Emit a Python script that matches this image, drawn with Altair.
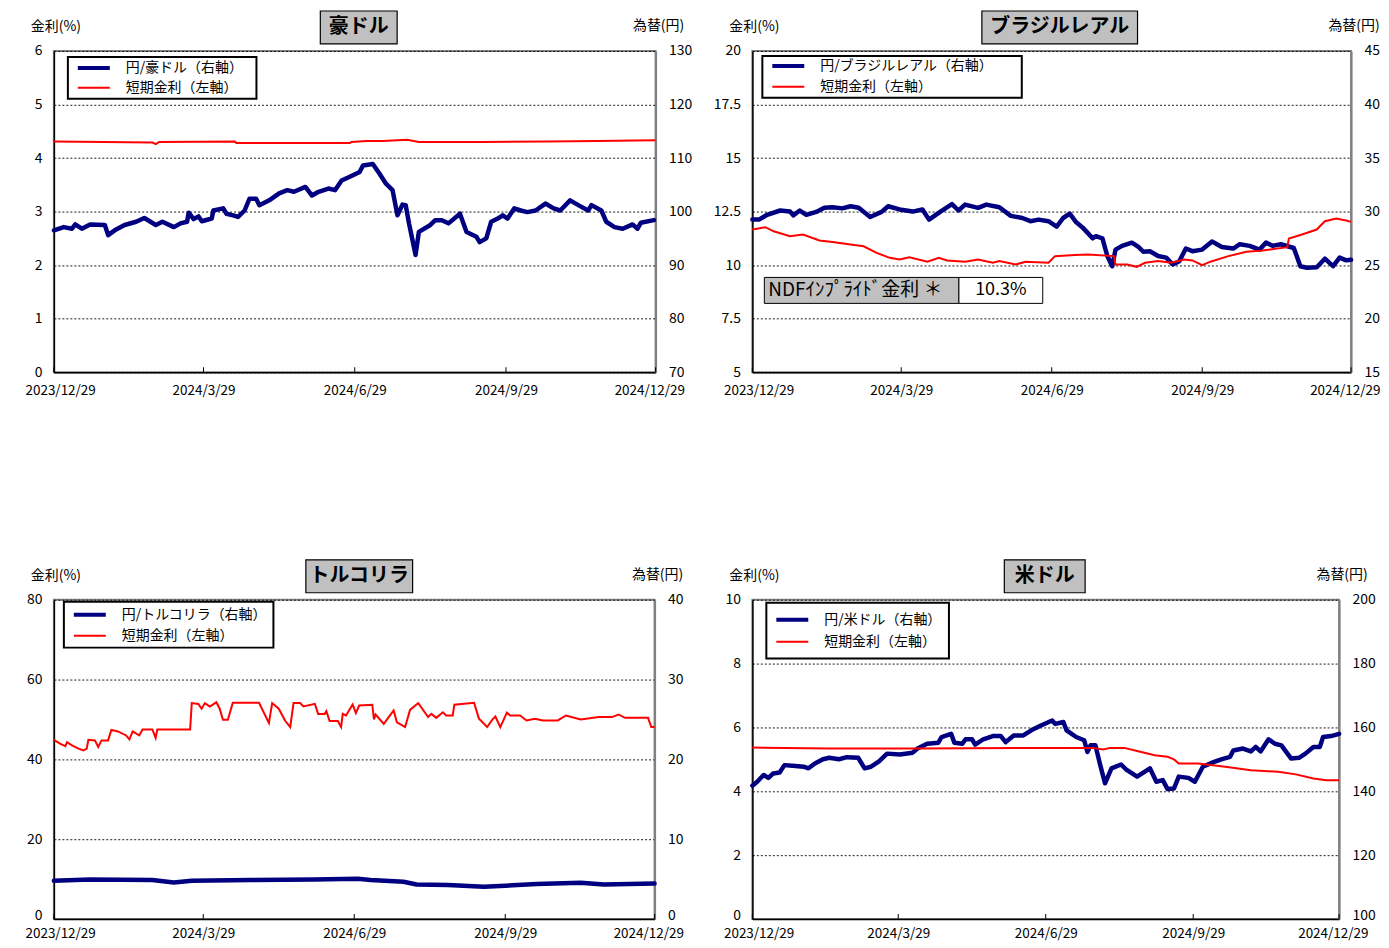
import altair as alt
import pandas as pd

BASE_DATE = "2023-12-29"
TICK_DATES = [(2023, 12, 29), (2024, 3, 29), (2024, 6, 29), (2024, 9, 29), (2024, 12, 29)]
TICK_DAYS = [0, 91, 183, 275, 366]

RATE_LABEL = "短期金利（左軸）"
LEFT_AXIS_TITLE = "金利(%)"
RIGHT_AXIS_TITLE = "為替(円)"

# ---------------- 豪ドル ----------------
AUD_TITLE = "豪ドル"
AUD_FX_LABEL = "円/豪ドル（右軸）"
AUD_FX_DAY = [0, 6, 11, 13, 17, 22, 31, 33, 37, 43, 50, 55, 62, 66, 73, 77, 81, 82, 85, 88,
              90, 96, 97, 103, 105, 109, 112, 116, 119, 123, 125, 131, 137, 142, 146, 153, 157, 161, 167, 171,
              175, 180, 186, 188, 194, 198, 202, 206, 209, 212, 214, 216, 220, 222, 229, 232, 236, 240, 247, 251,
              257, 259, 263, 266, 270, 273, 276, 280, 284, 288, 293, 299, 304, 308, 314, 319, 325, 327, 333, 336,
              341, 346, 352, 355, 357, 365]
AUD_FX = [96.5, 97.1, 96.8, 97.6, 96.8, 97.6, 97.5, 95.6, 96.5, 97.5, 98.1, 98.8, 97.5, 98.1, 97.1, 97.8, 98.1, 99.8, 98.6, 99.1,
          98.2, 98.7, 100.2, 100.6, 99.6, 99.3, 99.0, 100.2, 102.4, 102.4, 101.2, 102.1, 103.4, 104.0, 103.7, 104.6, 103.0, 103.7, 104.3, 104.0,
          105.8, 106.5, 107.4, 108.6, 108.9, 107.1, 105.2, 104.0, 99.3, 101.3, 101.2, 97.8, 91.9, 96.2, 97.5, 98.4, 98.4, 97.8, 99.6, 96.2,
          95.3, 94.3, 95.0, 98.1, 98.7, 99.3, 98.7, 100.6, 100.2, 99.9, 100.2, 101.5, 100.6, 100.2, 102.1, 101.2, 100.2, 101.2, 100.2, 98.1,
          97.1, 96.8, 97.6, 96.8, 97.9, 98.4]
AUD_RATE_DAY = [0, 30, 60, 62, 64, 110, 111, 180, 181, 190, 200, 215, 222, 260, 300, 330, 366]
AUD_RATE = [4.31, 4.30, 4.29, 4.26, 4.30, 4.31, 4.28, 4.28, 4.30, 4.32, 4.32, 4.34, 4.30, 4.30, 4.31, 4.32, 4.33]
AUD_LEFT_TICKS = [0, 1, 2, 3, 4, 5, 6]
AUD_RIGHT_TICKS = [70, 80, 90, 100, 110, 120, 130]

# ---------------- ブラジルレアル ----------------
BRL_TITLE = "ブラジルレアル"
BRL_FX_LABEL = "円/ブラジルレアル（右軸）"
BRL_FX_DAY = [0, 4, 9, 17, 23, 25, 29, 33, 39, 44, 49, 55, 60, 65, 72, 79, 83, 90, 98, 104,
              108, 115, 122, 126, 130, 138, 143, 151, 158, 165, 170, 175, 181, 186, 190, 194, 198, 202, 208, 210,
              214, 217, 220, 222, 226, 232, 236, 239, 243, 248, 253, 257, 261, 265, 269, 275, 281, 287, 294, 298,
              304, 310, 314, 318, 323, 331, 335, 339, 345, 350, 355, 359, 363, 366]
BRL_FX = [29.25, 29.25, 29.7, 30.1, 30.0, 29.65, 30.1, 29.7, 29.97, 30.35, 30.4, 30.3, 30.5, 30.35, 29.5, 29.97, 30.5, 30.2, 30.0, 30.2,
          29.25, 30.0, 30.7, 30.1, 30.65, 30.35, 30.65, 30.4, 29.6, 29.4, 29.1, 29.25, 29.1, 28.6, 29.4, 29.8, 29.0, 28.5, 27.5, 27.7,
          27.5, 25.85, 24.9, 26.45, 26.8, 27.1, 26.7, 26.25, 26.3, 25.85, 25.7, 25.06, 25.37, 26.55, 26.3, 26.45, 27.2, 26.7, 26.55, 26.95,
          26.8, 26.45, 27.1, 26.8, 26.95, 26.6, 24.9, 24.75, 24.8, 25.6, 24.9, 25.7, 25.45, 25.5]
BRL_RATE_DAY = [0, 8, 13, 23, 31, 41, 49, 60, 68, 76, 84, 90, 96, 107, 114, 119, 130, 138, 147, 151,
                161, 167, 181, 185, 197, 205, 221, 222, 229, 235, 240, 248, 256, 264, 269, 275, 280, 291, 302, 312,
                327, 328, 336, 345, 350, 357, 363, 366]
BRL_RATE = [11.66, 11.77, 11.58, 11.35, 11.43, 11.15, 11.08, 10.96, 10.88, 10.57, 10.34, 10.26, 10.37, 10.16, 10.34, 10.22, 10.16, 10.26, 10.11, 10.19,
            10.03, 10.16, 10.11, 10.42, 10.47, 10.5, 10.42, 10.03, 10.03, 9.92, 10.11, 10.19, 10.11, 10.26, 10.22, 10.0, 10.16, 10.42, 10.62, 10.68,
            10.84, 11.24, 11.43, 11.66, 12.05, 12.17, 12.08, 12.02]
BRL_LEFT_TICKS = [5, 7.5, 10, 12.5, 15, 17.5, 20]
BRL_RIGHT_TICKS = [15, 20, 25, 30, 35, 40, 45]
NDF_LABEL = "NDFｲﾝﾌﾟﾗｲﾄﾞ金利 ＊"
NDF_VALUE = "10.3%"

# ---------------- トルコリラ ----------------
TRY_TITLE = "トルコリラ"
TRY_FX_LABEL = "円/トルコリラ（右軸）"
TRY_FX_DAY = [0, 22, 60, 73, 84, 120, 158, 185, 193, 213, 221, 240, 262, 275, 294, 321, 335, 366]
TRY_FX = [4.79, 4.96, 4.88, 4.58, 4.79, 4.88, 4.96, 5.04, 4.88, 4.67, 4.33, 4.25, 4.04, 4.17, 4.38, 4.54, 4.33, 4.46]
TRY_RATE_DAY = [0, 4, 7, 8, 11, 15, 18, 20, 21, 25, 27, 29, 33, 35, 39, 44, 46, 48, 52, 54,
                60, 62, 63, 83, 84, 88, 90, 92, 95, 99, 101, 103, 106, 109, 125, 131, 133, 137, 141, 144,
                146, 150, 152, 159, 161, 165, 166, 168, 173, 175, 176, 178, 182, 184, 186, 194, 195, 196, 201, 204,
                207, 209, 214, 217, 222, 228, 230, 233, 237, 239, 243, 244, 256, 259, 264, 267, 269, 272, 276, 278,
                284, 288, 293, 298, 307, 312, 321, 332, 340, 344, 348, 362, 364, 366]
TRY_RATE = [44.9, 43.9, 43.3, 44.3, 43.5, 42.7, 42.25, 42.7, 44.9, 44.75, 43.1, 44.75, 44.75, 47.4, 47.0, 46.0, 45.0, 47.0, 46.0, 47.5,
            47.5, 45.4, 47.5, 47.5, 54.1, 53.9, 52.7, 54.1, 53.25, 54.3, 52.7, 49.9, 49.9, 54.2, 54.2, 49.1, 54.1, 52.7, 49.6, 48.1,
            54.1, 54.1, 53.25, 53.9, 51.4, 51.4, 52.1, 49.6, 49.6, 48.1, 51.4, 51.0, 53.75, 51.6, 53.5, 53.7, 50.0, 51.25, 48.9, 50.6,
            52.25, 49.3, 48.1, 52.4, 54.1, 50.6, 51.4, 50.4, 51.8, 51.0, 51.0, 53.7, 54.2, 50.2, 48.1, 49.9, 50.75, 48.1, 51.7, 51.0,
            51.0, 49.75, 50.2, 49.75, 49.75, 51.0, 50.0, 50.6, 50.6, 51.25, 50.4, 50.4, 48.1, 48.1]
TRY_LEFT_TICKS = [0, 20, 40, 60, 80]
TRY_RIGHT_TICKS = [0, 10, 20, 30, 40]

# ---------------- 米ドル ----------------
USD_TITLE = "米ドル"
USD_FX_LABEL = "円/米ドル（右軸）"
USD_FX_DAY = [0, 3, 7, 10, 13, 17, 20, 25, 32, 35, 39, 44, 48, 54, 59, 66, 70, 74, 79, 84,
              92, 100, 103, 109, 116, 118, 124, 126, 131, 133, 137, 139, 144, 150, 155, 158, 163, 169, 174, 180,
              187, 189, 194, 196, 202, 207, 209, 211, 214, 217, 220, 224, 230, 233, 240, 248, 252, 256, 259, 263,
              266, 272, 276, 281, 288, 293, 298, 300, 306, 311, 314, 317, 322, 326, 330, 336, 341, 345, 350, 354,
              356, 361, 366]
USD_FX = [141.76, 143.0, 145.1, 144.2, 145.6, 145.9, 148.2, 148.0, 147.7, 147.2, 148.7, 150.05, 150.5, 150.05, 150.7, 150.5, 147.2, 147.7, 149.4, 151.8,
          151.5, 152.1, 153.4, 154.9, 155.2, 157.0, 158.0, 155.2, 154.9, 156.3, 156.3, 154.6, 156.3, 157.3, 157.3, 155.4, 157.5, 157.5, 159.1, 160.6,
          162.2, 161.1, 161.7, 159.1, 157.0, 156.0, 152.3, 154.4, 154.4, 148.2, 142.5, 147.2, 148.4, 146.9, 144.6, 147.2, 143.0, 143.5, 140.7, 140.9,
          144.6, 144.2, 143.0, 147.7, 149.2, 150.05, 150.8, 152.8, 153.4, 152.5, 153.9, 152.5, 156.3, 154.9, 154.4, 150.3, 150.5, 151.8, 153.9, 153.9,
          157.0, 157.3, 158.0]
USD_RATE_DAY = [0, 48, 103, 185, 212, 219, 223, 232, 240, 251, 259, 263, 266, 278, 295, 311, 328, 339, 350, 358, 366]
USD_RATE = [5.37, 5.34, 5.34, 5.36, 5.36, 5.31, 5.36, 5.36, 5.26, 5.13, 5.08, 5.0, 4.87, 4.87, 4.77, 4.66, 4.61, 4.53, 4.40, 4.35, 4.35]
USD_LEFT_TICKS = [0, 2, 4, 6, 8, 10]
USD_RIGHT_TICKS = [100, 120, 140, 160, 180, 200]

FONT = "Noto Sans CJK JP"
BLUE = "#000080"
RED = "#FF0000"
DUMMY = pd.DataFrame({"k": [0]})


def to_frame(days, values):
    dates = pd.Timestamp(BASE_DATE) + pd.to_timedelta(days, unit="D")
    return pd.DataFrame({"date": dates, "value": values})


def dt(t):
    return alt.DateTime(year=t[0], month=t[1], date=t[2])


def low_label_offset(ticks, shift):
    # lift only the lowest y label a little so it clears the date labels
    return {"condition": {"test": f"datum.value == {ticks[0]}", "value": shift}, "value": 0}


def panel(title, fx_label, fx_days, fx_vals, rate_days, rate_vals, lticks, rticks,
          w, h, box_w, box_dx, leg, xpad, lift, extra=()):
    xscale = alt.Scale(domain=[dt(TICK_DATES[0]), dt(TICK_DATES[-1])])
    x = alt.X("date:T", title=None, scale=xscale,
              axis=alt.Axis(values=[dt(t) for t in TICK_DATES], format="%Y/%-m/%-d",
                            labelFlush=True, labelFlushOffset=29, labelOverlap=False,
                            labelBound=False, grid=False, tickSize=0, labelFontSize=13.5,
                            labelPadding=xpad, domainColor="black", domainWidth=1.5))
    blue = alt.Chart(to_frame(fx_days, fx_vals)).mark_line(
        color=BLUE, strokeWidth=4.5, strokeJoin="round", strokeCap="round"
    ).encode(
        x=x,
        y=alt.Y("value:Q", title=None,
                scale=alt.Scale(domain=[rticks[0], rticks[-1]], nice=False, zero=False),
                axis=alt.Axis(orient="right", values=rticks, format=".1~f", grid=False, tickSize=0,
                              labelPadding=13, labelOffset=low_label_offset(rticks, lift),
                              domainColor="#808080", domainWidth=2)),
    )
    red = alt.Chart(to_frame(rate_days, rate_vals)).mark_line(
        color=RED, strokeWidth=2
    ).encode(
        x=x,
        y=alt.Y("value:Q", title=None,
                scale=alt.Scale(domain=[lticks[0], lticks[-1]], nice=False, zero=False),
                axis=alt.Axis(orient="left", values=lticks, format=".1~f", grid=True,
                              gridDash=[2, 2], gridColor="black", gridWidth=0.9, gridOpacity=1,
                              tickSize=0, labelPadding=12, labelOffset=low_label_offset(lticks, lift),
                              domainColor="black", domainWidth=1.5)),
    )
    # small inward tick marks on the date axis
    ticks = alt.Chart(to_frame(TICK_DAYS, [0] * len(TICK_DAYS))).mark_rule(
        color="black", strokeWidth=1
    ).encode(
        x=x,
        y=alt.value(h - 5), y2=alt.value(h),
    )
    base = alt.Chart(DUMMY)
    cx = w / 2 + box_dx
    layers = [blue, red, ticks]
    # title box
    layers.append(base.mark_rect(fill="#C0C0C0", stroke="black", strokeWidth=1.2).encode(
        x=alt.value(cx - box_w / 2), x2=alt.value(cx + box_w / 2),
        y=alt.value(-40), y2=alt.value(-7)))
    layers.append(base.mark_text(text=title, font=FONT, fontSize=20, fontWeight="bold",
                                 color="black", align="center", baseline="middle").encode(
        x=alt.value(cx), y=alt.value(-23.5)))
    # axis titles
    layers.append(base.mark_text(text=LEFT_AXIS_TITLE, font=FONT, fontSize=14, color="black",
                                 align="center", baseline="middle").encode(
        x=alt.value(2), y=alt.value(-24)))
    layers.append(base.mark_text(text=RIGHT_AXIS_TITLE, font=FONT, fontSize=14, color="black",
                                 align="center", baseline="middle").encode(
        x=alt.value(w + 3), y=alt.value(-25)))
    # legend
    lx, ly, lw, lh, r1, r2 = leg
    layers.append(base.mark_rect(fill="white", stroke="black", strokeWidth=2).encode(
        x=alt.value(lx), x2=alt.value(lx + lw), y=alt.value(ly), y2=alt.value(ly + lh)))
    layers.append(base.mark_rule(color=BLUE, strokeWidth=4).encode(
        x=alt.value(lx + 10), x2=alt.value(lx + 42), y=alt.value(r1)))
    layers.append(base.mark_rule(color=RED, strokeWidth=2).encode(
        x=alt.value(lx + 10), x2=alt.value(lx + 42), y=alt.value(r2)))
    layers.append(base.mark_text(text=fx_label, font=FONT, fontSize=14, color="black",
                                 align="left", baseline="middle").encode(
        x=alt.value(lx + 58), y=alt.value(r1)))
    layers.append(base.mark_text(text=RATE_LABEL, font=FONT, fontSize=14, color="black",
                                 align="left", baseline="middle").encode(
        x=alt.value(lx + 58), y=alt.value(r2)))
    layers.extend(extra)
    return alt.layer(*layers).resolve_scale(y="independent").properties(width=w, height=h)


# NDF implied-rate box (BRL panel)
_b = alt.Chart(DUMMY)
ndf_layers = [
    _b.mark_rect(fill="#C0C0C0", stroke="black", strokeWidth=1).encode(
        x=alt.value(12), x2=alt.value(207), y=alt.value(227), y2=alt.value(253)),
    _b.mark_rect(fill="white", stroke="black", strokeWidth=1).encode(
        x=alt.value(207), x2=alt.value(291), y=alt.value(227), y2=alt.value(253)),
    _b.mark_text(text=NDF_LABEL, font=FONT, fontSize=19, color="black",
                 align="left", baseline="middle").encode(x=alt.value(16), y=alt.value(240)),
    _b.mark_text(text=NDF_VALUE, font=FONT, fontSize=18, color="black",
                 align="center", baseline="middle").encode(x=alt.value(249), y=alt.value(240)),
]

p_aud = panel(AUD_TITLE, AUD_FX_LABEL, AUD_FX_DAY, AUD_FX, AUD_RATE_DAY, AUD_RATE,
              AUD_LEFT_TICKS, AUD_RIGHT_TICKS, 603, 322, 77, 4, (14, 6, 189, 42, 17, 37), 11, 0)
p_brl = panel(BRL_TITLE, BRL_FX_LABEL, BRL_FX_DAY, BRL_FX, BRL_RATE_DAY, BRL_RATE,
              BRL_LEFT_TICKS, BRL_RIGHT_TICKS, 600, 322, 156, 8, (10, 5, 260, 42, 15, 36), 11, 0,
              extra=ndf_layers)
p_try = panel(TRY_TITLE, TRY_FX_LABEL, TRY_FX_DAY, TRY_FX, TRY_RATE_DAY, TRY_RATE,
              TRY_LEFT_TICKS, TRY_RIGHT_TICKS, 602, 320, 107, 5, (10, 2, 210, 46, 15, 36), 7.5, -4)
p_usd = panel(USD_TITLE, USD_FX_LABEL, USD_FX_DAY, USD_FX, USD_RATE_DAY, USD_RATE,
              USD_LEFT_TICKS, USD_RIGHT_TICKS, 588, 320, 81, -1, (14, 3, 183, 56, 20, 42), 7.5, -4)

chart = alt.concat(p_aud, p_brl, p_try, p_usd, columns=2,
                   spacing={"row": 228, "column": 97}, bounds="flush").properties(
    padding={"left": 16, "top": 0, "right": 0, "bottom": 0}
).configure_view(
    stroke="#808080", strokeWidth=2
).configure_axis(
    labelFont=FONT, labelFontSize=14, labelColor="black"
)

chart.save("out.html", embed_options={"renderer": "svg", "actions": False})
